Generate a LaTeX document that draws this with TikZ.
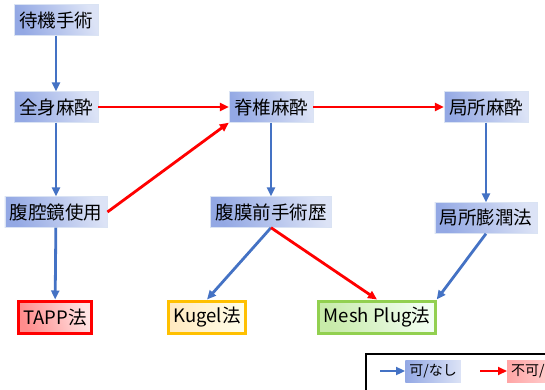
\documentclass[tikz,border=0pt]{standalone}
\usepackage{fontspec}
\newfontfamily\jpfont{Noto Sans CJK JP}
\usetikzlibrary{arrows.meta}

\definecolor{kablue}{HTML}{4472C4}
\definecolor{boxdark}{HTML}{93A8E4}
\definecolor{boxlight}{HTML}{DCE3F6}

\begin{document}
\begin{tikzpicture}[x=1pt, y=-1pt,
	schritt/.style = {left color=boxdark, right color=boxlight, shading angle=110, draw=white!80!kablue, thin, inner xsep=5pt, minimum height=31pt, font=\jpfont\fontsize{18.5}{20}\selectfont},
	ergebnis/.style = {line width=3pt, inner xsep=5pt, minimum height=32pt, font=\jpfont\fontsize{18.5}{20}\selectfont},
	ja/.style = {kablue, line width=2.8pt, -{Triangle[length=9pt,width=8pt]}},
	nein/.style = {red, line width=2.8pt, -{Triangle[length=9pt,width=8pt]}},
	]
	
	\useasboundingbox (0,0) rectangle (545,390);
	
	\node[schritt] (taiki) at (56,20) {待機手術};
	\node[schritt] (zenshin) at (56,107) {全身麻酔};
	\node[schritt] (kyo) at (56,212) {腹腔鏡使用};
	\node[schritt] (sekitsui) at (271,107) {脊椎麻酔};
	\node[schritt] (kyokusho) at (486,107) {局所麻酔};
	\node[schritt] (fukumaku) at (271,212) {腹膜前手術歴};
	\node[schritt] (boujun) at (486,218) {局所膨潤法};
	
	\node[ergebnis, draw=red, left color=red!45, right color=red!10, shading angle=110] (tapp) at (55,317) {TAPP法};
	\node[ergebnis, draw={rgb,255:red,255;green,192;blue,0}, left color=yellow!30!orange!25, right color=yellow!8] (kugel) at (207,317) {Kugel法};
	\node[ergebnis, draw={rgb,255:red,146;green,208;blue,80}, left color={rgb,255:red,200;green,235;blue,170}, right color=green!5, shading angle=110] (mesh) at (377,317) {Mesh Plug法};
	
	\draw[ja] (taiki) -- (zenshin);
	\draw[ja] (zenshin) -- (kyo);
	\draw[ja] (kyo) -- (tapp);
	\draw[ja] (sekitsui) -- (fukumaku);
	\draw[ja] (kyokusho) -- (boujun);
	\draw[ja] (fukumaku.south) -- (kugel.north);
	\draw[ja] (boujun.south) -- (mesh.north east);
	
	\draw[nein] (zenshin) -- (sekitsui);
	\draw[nein] (sekitsui) -- (kyokusho);
	\draw[nein] (kyo.east) -- (sekitsui.south west);
	\draw[nein] (fukumaku.south) -- (mesh.north);
	
	% legend
	\draw[line width=1.5pt] (366,354) rectangle (620,430);
	\node[left color=boxdark, right color=boxlight, inner xsep=4pt, minimum height=22pt, font=\jpfont\fontsize{14}{16}\selectfont] (kalabel) at (433,371) {可/なし};
	\node[left color=red!35, right color=red!10, inner xsep=4pt, minimum height=22pt, anchor=west, font=\jpfont\fontsize{14}{16}\selectfont] (fukalabel) at (507,371) {不可/あり};
	\coordinate (kastart) at (380,371);
	\coordinate (fukastart) at (480,371);
	\draw[ja, line width=2pt] (kastart) -- (kalabel.west);
	\draw[nein, line width=2pt] (fukastart) -- (fukalabel.west);
	
\end{tikzpicture}
\end{document}
